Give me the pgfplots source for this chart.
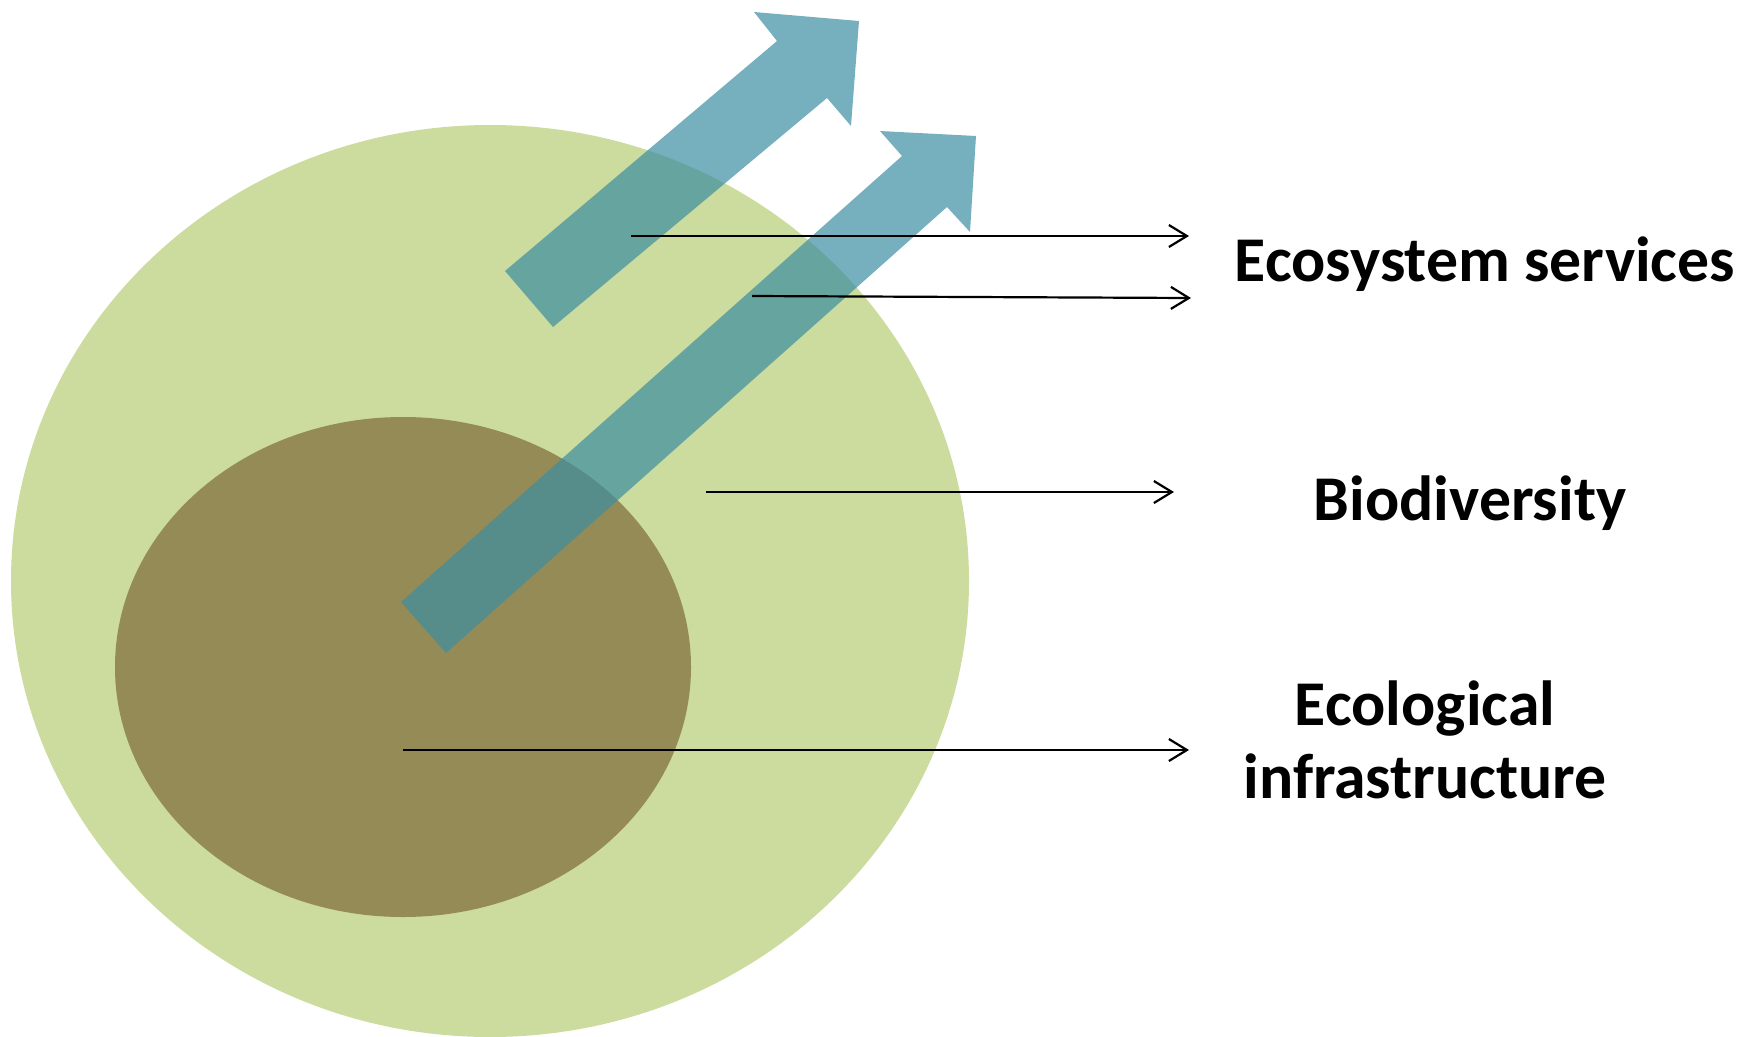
\documentclass[border=0pt]{standalone}
\usepackage{fontspec}
\setmainfont{Carlito}
\usepackage{pgfplots}
\pgfplotsset{compat=1.18}
\usetikzlibrary{arrows.meta}

\definecolor{outergreen}{RGB}{204,219,158}
\definecolor{innerolive}{RGB}{149,139,86}
\definecolor{arrowteal}{RGB}{60,142,162}

\begin{document}
\begin{tikzpicture}
\begin{axis}[
    scale only axis,
    width=871.5bp, height=518.5bp,
    xmin=0, xmax=1743, ymin=0, ymax=1037,
    y dir=reverse,
    hide axis,
    clip=false,
]
% keeps the page at full size
\addplot[draw=none] coordinates {(0,0) (1743,1037)};

% circles
\draw[draw=none, fill=outergreen] (axis cs:490,581) ellipse [x radius=479, y radius=456];
\draw[draw=none, fill=innerolive] (axis cs:403,667) ellipse [x radius=288, y radius=250];

% the two broad arrows
\addplot[draw=none, fill=arrowteal, fill opacity=0.7] coordinates {
    (505,271) (777,41) (754,12) (859,21) (851,126) (827,98) (553,327)
} -- cycle;
\addplot[draw=none, fill=arrowteal, fill opacity=0.7] coordinates {
    (401,602) (902,156) (880,131) (976,136) (970,232) (947,207) (446,653)
} -- cycle;

% pointer lines
\addplot[black, line width=1.1bp, -{Straight Barb[length=9bp, width=11bp]}] coordinates {(631,236) (1189,236)};
\addplot[black, line width=1.1bp, -{Straight Barb[length=9bp, width=11bp]}] coordinates {(752,296) (1191,298)};
\addplot[black, line width=1.1bp, -{Straight Barb[length=9bp, width=11bp]}] coordinates {(706,492) (1174,492)};
\addplot[black, line width=1.1bp, -{Straight Barb[length=9bp, width=11bp]}] coordinates {(403,750) (1189,750)};

% labels
\begin{scope}[every node/.style={anchor=base, inner sep=0pt, font=\fontsize{32}{38}\selectfont\bfseries}]
\node at (axis cs:1485,281) {Ecosystem services};
\node at (axis cs:1470,520) {Biodiversity};
\node at (axis cs:1425,725) {Ecological};
\node at (axis cs:1425,798) {infrastructure};
\end{scope}
\end{axis}
\end{tikzpicture}
\end{document}
